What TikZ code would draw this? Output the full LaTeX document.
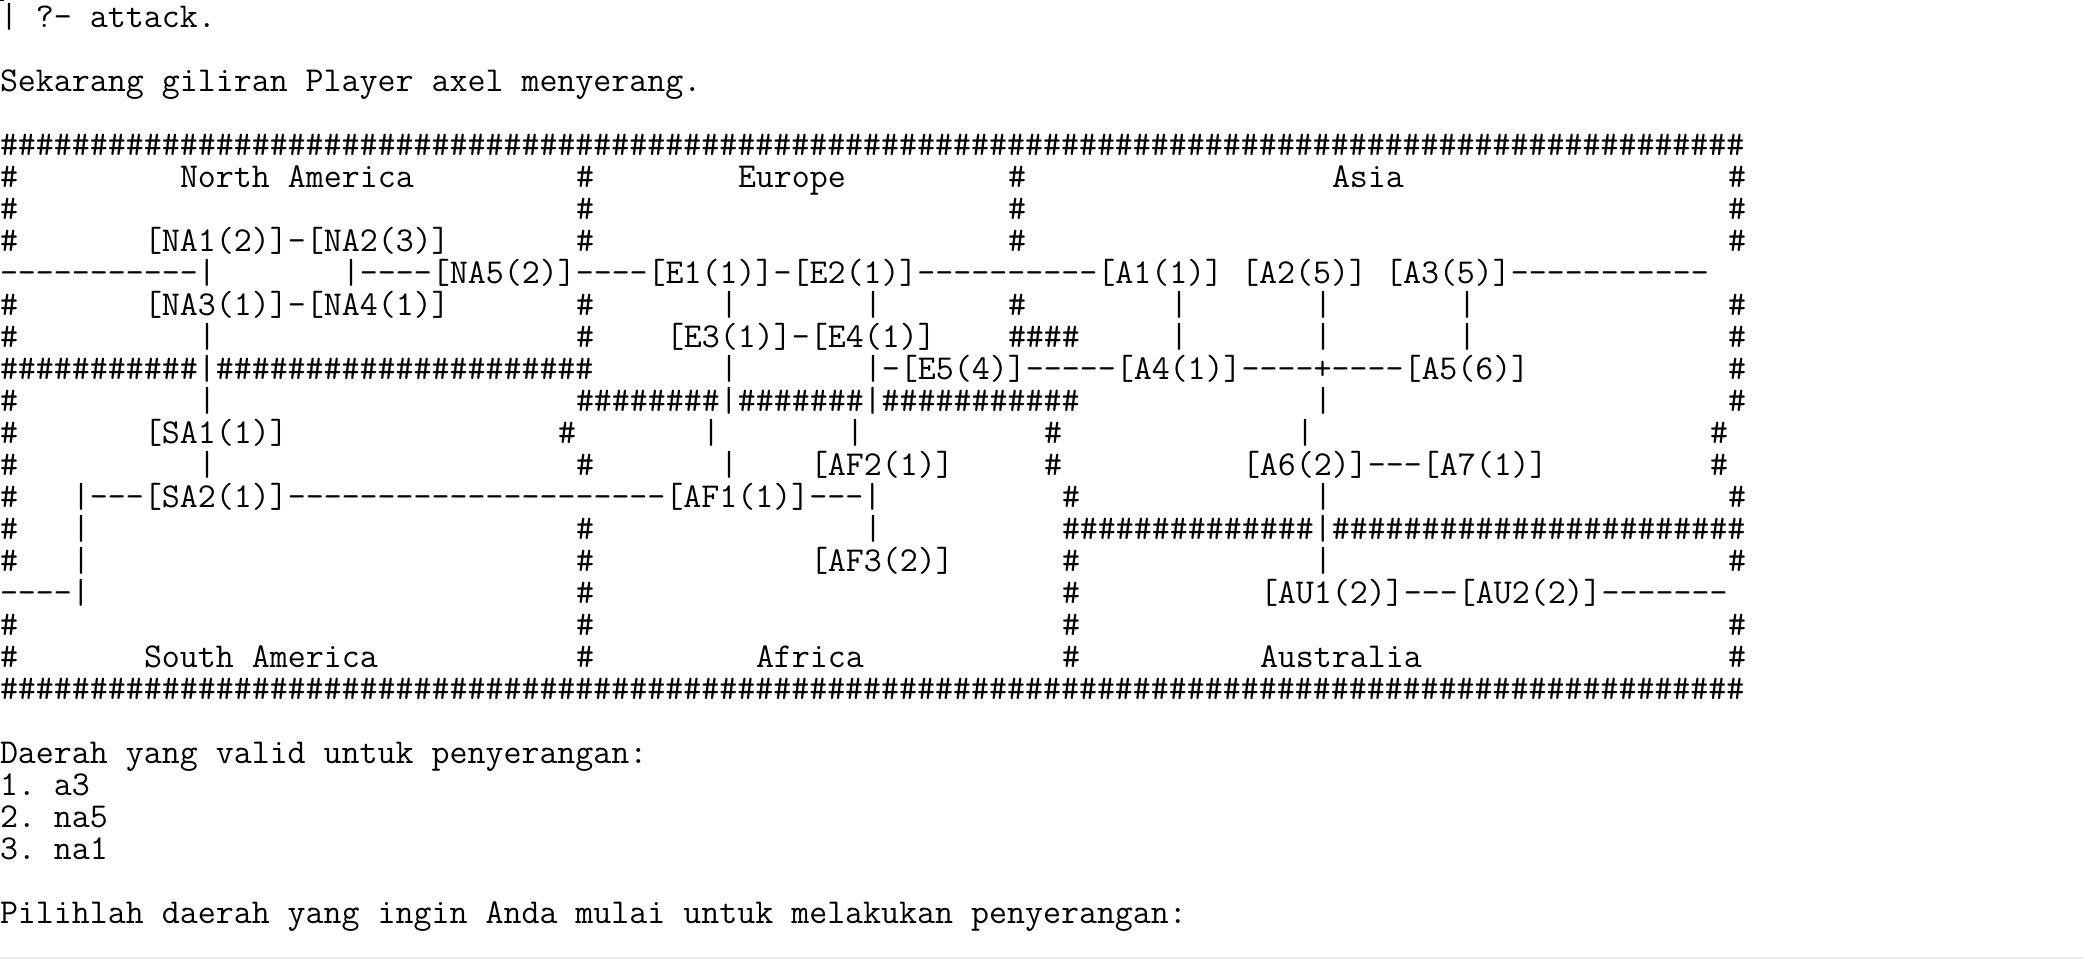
\documentclass[tikz,border=0pt]{standalone}
\newcommand{\tenh}{\#\#\#\#\#\#\#\#\#\#}
\tikzset{tx/.style={anchor=base west,inner sep=0pt,outer sep=0pt,text=black,font=\fontsize{17.46pt}{16pt}\selectfont\ttfamily\frenchspacing}}
\begin{document}
\begin{tikzpicture}[x=9pt,y=-16pt]
\fill[white] (0pt,13.5pt) rectangle (1042pt,-466.5pt);
\fill[black!7] (0pt,-465.2pt) rectangle (1042pt,-465.9pt);
\fill[black] (0pt,13.5pt) rectangle (2pt,13pt);
\useasboundingbox (0pt,13.5pt) rectangle (1042pt,-466.5pt);
\node[tx] (prompt) at (0,0) {| ?- attack.};
\node[tx] (turn) at (0,2) {Sekarang giliran Player axel menyerang.};
\node[tx] (top) at (0,4) {\tenh\tenh\tenh\tenh\tenh\tenh\tenh\tenh\tenh\#\#\#\#\#\#\#};
\node[tx] (bottom) at (0,21) {\tenh\tenh\tenh\tenh\tenh\tenh\tenh\tenh\tenh\#\#\#\#\#\#\#};
% frame hashes
\foreach \c/\r in {0/5,32/5,56/5,96/5,0/6,32/6,56/6,96/6,0/7,32/7,56/7,96/7,0/9,32/9,56/9,96/9,0/10,32/10,96/10,96/11,0/12,96/12,0/13,31/13,58/13,95/13,0/14,32/14,58/14,95/14,0/15,59/15,96/15,0/16,32/16,0/17,32/17,59/17,96/17,32/18,59/18,0/19,32/19,59/19,96/19,0/20,32/20,59/20,96/20}
  \node[tx] (h\c-\r) at (\c,\r) {\#};
% vertical bars
\foreach \c/\r in {40/9,48/9,65/9,73/9,81/9,11/10,65/10,73/10,81/10,40/11,11/12,73/12,39/13,47/13,72/13,11/14,40/14,4/16,48/16,4/17,73/15,73/17}
  \node[tx] (b\c-\r) at (\c,\r) {|};
\node[tx] (na) at (10,5) {North America};
\node[tx] (eu) at (41,5) {Europe};
\node[tx] (as) at (74,5) {Asia};
\node[tx] (na12) at (8,7) {[NA1(2)]-[NA2(3)]};
\node[tx] (west) at (0,8) {-----------|};
\node[tx] (mid) at (19,8) {|----[NA5(2)]----[E1(1)]-[E2(1)]----------[A1(1)] [A2(5)] [A3(5)]-----------};
\node[tx] (na34) at (8,9) {[NA3(1)]-[NA4(1)]};
\node[tx] (e34) at (37,10) {[E3(1)]-[E4(1)]};
\node[tx] (h4) at (56,10) {\#\#\#\#};
\node[tx] (nsb) at (0,11) {\#\#\#\#\#\#\#\#\#\#\#|\tenh\tenh\#};
\node[tx] (e5) at (48,11) {|-[E5(4)]-----[A4(1)]----+----[A5(6)]};
\node[tx] (eab) at (32,12) {\#\#\#\#\#\#\#\#|\#\#\#\#\#\#\#|\tenh\#};
\node[tx] (sa1) at (8,13) {[SA1(1)]};
\node[tx] (af2) at (45,14) {[AF2(1)]};
\node[tx] (a67) at (69,14) {[A6(2)]---[A7(1)]};
\node[tx] (sa2) at (4,15) {|---[SA2(1)]---------------------[AF1(1)]---|};
\node[tx] (aab) at (59,16) {\tenh\#\#\#\#|\tenh\tenh\#\#\#};
\node[tx] (af3) at (45,17) {[AF3(2)]};
\node[tx] (sw) at (0,18) {----|};
\node[tx] (au) at (70,18) {[AU1(2)]---[AU2(2)]-------};
\node[tx] (sam) at (8,20) {South America};
\node[tx] (af) at (42,20) {Africa};
\node[tx] (aus) at (70,20) {Australia};
\node[tx] (valid) at (0,23) {Daerah yang valid untuk penyerangan:};
\node[tx] (o1) at (0,24) {1. a3};
\node[tx] (o2) at (0,25) {2. na5};
\node[tx] (o3) at (0,26) {3. na1};
\node[tx] (ask) at (0,28) {Pilihlah daerah yang ingin Anda mulai untuk melakukan penyerangan:};
\end{tikzpicture}
\end{document}
